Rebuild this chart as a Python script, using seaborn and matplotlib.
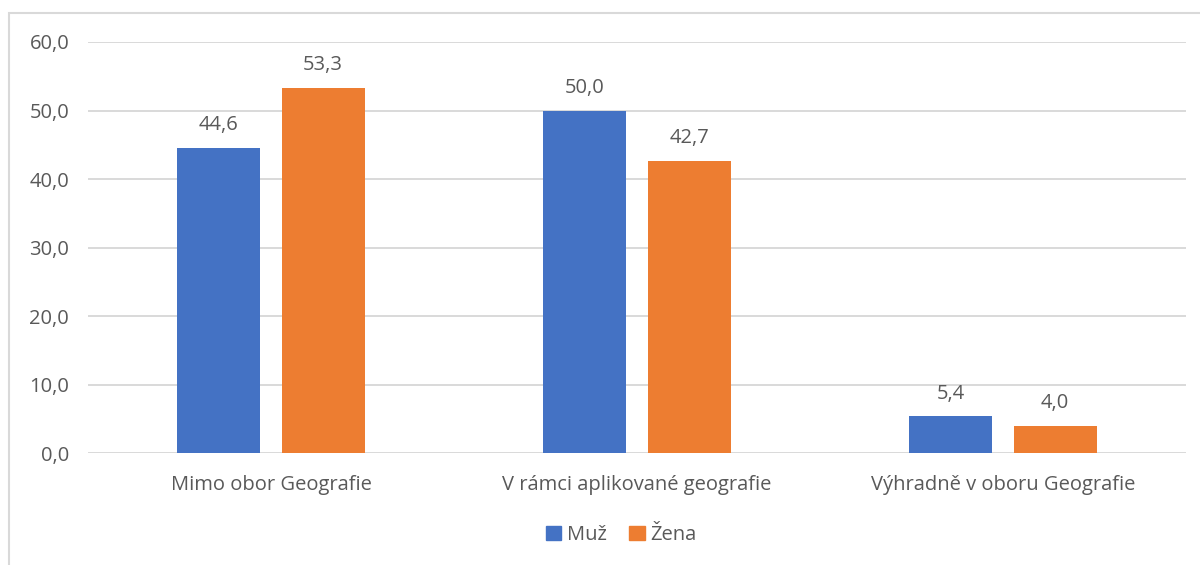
import matplotlib
matplotlib.use("Agg")
import matplotlib.pyplot as plt
import matplotlib.patches as mpatches
from matplotlib.ticker import FuncFormatter
import seaborn as sns
import pandas as pd

# data
kategorie = ["Mimo obor Geografie", "V rámci aplikované geografie", "Výhradně v oboru Geografie"]
muz = [44.6, 50.0, 5.4]
zena = [53.3, 42.7, 4.0]
pohlavi = ["Muž", "Žena"]
barvy = ["#4472C4", "#ED7D31"]

df = pd.DataFrame({
    "kategorie": kategorie * 2,
    "pohlavi": [pohlavi[0]] * 3 + [pohlavi[1]] * 3,
    "hodnota": muz + zena,
})

sns.set_style("white")
plt.rcParams["font.family"] = ["Open Sans", "DejaVu Sans"]
text_col = "#595959"
fs = 14.5

fig = plt.figure(figsize=(12, 5.65), dpi=100)
ax = fig.add_axes([0.0733, 0.198, 0.915, 0.7277])

sns.barplot(data=df, x="kategorie", y="hodnota", hue="pohlavi",
            palette=barvy, width=0.571, gap=0.206, ax=ax, legend=False,
            saturation=1, linewidth=0)

for cont in ax.containers:
    ax.bar_label(cont, labels=[f"{v:.1f}".replace(".", ",") for v in cont.datavalues],
                 padding=9, fontsize=fs, color=text_col)

ax.set_ylim(0, 60)
ax.set_yticks(range(0, 61, 10))
ax.yaxis.set_major_formatter(FuncFormatter(lambda v, p: f"{v:.1f}".replace(".", ",")))
ax.set_xlim(-0.5, 2.5)
ax.grid(axis="y", color="#D9D9D9", linewidth=1.4)
ax.set_axisbelow(True)
for s in ax.spines.values():
    s.set_visible(False)
ax.tick_params(axis="both", length=0, labelsize=fs, colors=text_col)
ax.tick_params(axis="y", pad=13.5)
ax.tick_params(axis="x", pad=16)
ax.set_xlabel("")
ax.set_ylabel("")

handles = [mpatches.Patch(color=c, label=l) for c, l in zip(barvy, pohlavi)]
leg = fig.legend(handles=handles, loc="center", bbox_to_anchor=(0.518, 0.053), ncol=2,
                 frameon=False, fontsize=fs, handlelength=0.75, handleheight=0.75,
                 handletextpad=0.3, columnspacing=1.1)
for t in leg.get_texts():
    t.set_color(text_col)

# chart border
fig.patches.append(mpatches.Rectangle((9 / 1200, -0.05), 1.2, 1 - 13 / 565 + 0.05,
                                      transform=fig.transFigure, fill=False,
                                      edgecolor="#D9D9D9", linewidth=1.5))

fig.savefig("out.png", dpi=100)
